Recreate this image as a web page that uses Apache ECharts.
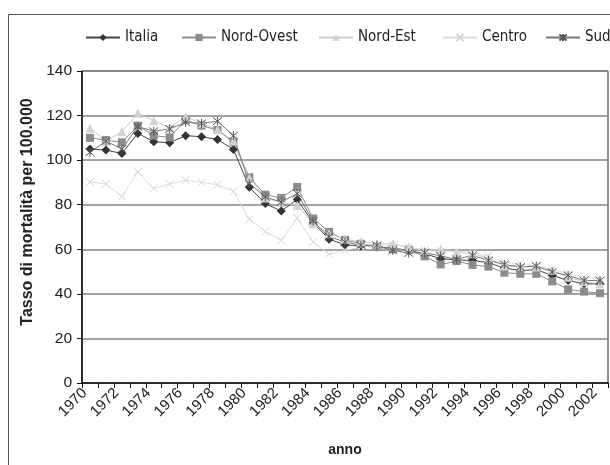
<!DOCTYPE html>
<html>
<head>
<meta charset="utf-8">
<script src="https://cdn.jsdelivr.net/npm/echarts@6/dist/echarts.min.js"></script>
<style>
  html, body { margin: 0; padding: 0; background: #fff; }
  #chart { width: 610px; height: 465px; }
</style>
</head>
<body>
<div id="chart"></div>
<script>
// anni 1970-2002
var years = [];
for (var y = 1970; y <= 2002; y++) years.push(String(y));

var italia = [105, 104.5, 103, 112, 108.3, 107.8, 111, 110.5, 109.3, 104.8,
  87.8, 80.5, 77.2, 82.3, 72, 64.5, 62, 61.5, 61, 60.5,
  59.5, 58, 55.8, 55.2, 55, 54, 51.5, 50.5, 50.8, 48.3,
  46, 44.5, 44.5];
var nordOvest = [110, 109, 108, 115.5, 111, 110.2, 118, 115.5, 113.5, 108,
  92.3, 84.5, 83, 88, 73.8, 67.8, 64.2, 62.5, 61, 60,
  59.8, 56.8, 53.2, 54.7, 53, 52.2, 49.5, 49, 49, 45.6,
  42, 41, 40.3];
var nordEst = [114.3, 108.5, 112.8, 121, 117.8, 114.5, 119.5, 116.5, 113.8, 108.7,
  92, 83, 81, 79.7, 71.5, 67, 64.5, 63.5, 62.5, 62.5,
  61, 59.5, 60, 58.8, 58, 56, 52.5, 52.5, 52, 50.5,
  47.5, 45.5, 44.5];
var centro = [90.2, 89.3, 83.7, 94.7, 87.3, 89.3, 91, 90, 89, 86,
  73.5, 68, 64, 74, 63.3, 57.8, 59.5, 61, 61.5, 62,
  61, 59.5, 59, 59, 58.5, 57, 54, 53.5, 52.5, 51,
  49, 47.5, 47];
var sud = [103.5, 108.5, 105, 115, 113, 114, 117, 116.5, 117.5, 111,
  89.5, 83.5, 81.2, 85, 72.6, 65.7, 63.3, 61.8, 61.8, 59.5,
  58.3, 58.5, 57, 55.5, 57.3, 55, 53.2, 52, 52.5, 49.8,
  48.3, 46, 46];

var yTicks = { min: 0, max: 140, step: 20 };

var font = 'Liberation Sans, Arial, sans-serif';
var narrow = '"Liberation Sans Narrow", "DejaVu Sans Condensed", "Liberation Sans", sans-serif';

var xMark = 'path://M0,0L10,10M10,0L0,10';
var starMark = 'path://M0,0L10,10M10,0L0,10M5,-1L5,11';

function serie(name, data, color, lineColor, symbol, size, stroke) {
  var item = stroke
    ? { color: 'rgba(0,0,0,0)', borderColor: color, borderWidth: 1 }
    : { color: color, borderColor: color, borderWidth: 0 };
  return {
    name: name,
    type: 'line',
    data: data,
    symbol: symbol,
    symbolSize: size,
    showAllSymbol: true,
    lineStyle: { color: lineColor, width: 1 },
    itemStyle: item,
    emphasis: { disabled: true },
    animation: false
  };
}

var names = ['Italia', 'Nord-Ovest', 'Nord-Est', 'Centro', 'Sud'];
var legendLeft = [80, 176, 313, 437, 540];

var legends = names.map(function (n, i) {
  return {
    data: [n],
    left: legendLeft[i],
    top: 25,
    itemWidth: 34,
    itemHeight: 9,
    textStyle: { fontFamily: narrow, fontSize: 15, color: '#222' }
  };
});

var chart = echarts.init(document.getElementById('chart'), null, { renderer: 'canvas' });
chart.setOption({
  backgroundColor: '#fff',
  animation: false,
  graphic: [{
    type: 'rect',
    shape: { x: 8.5, y: 14.5, width: 800, height: 800 },
    style: { fill: 'none', stroke: '#555', lineWidth: 1 },
    silent: true
  }],
  legend: legends,
  grid: {
    left: 82, top: 71, width: 526, height: 312,
    show: true, borderColor: '#222', borderWidth: 1
  },
  xAxis: {
    type: 'category',
    data: years,
    boundaryGap: true,
    name: 'anno',
    nameLocation: 'middle',
    nameGap: 60,
    nameTextStyle: { fontFamily: font, fontSize: 14, fontWeight: 'bold', color: '#222' },
    axisLine: { lineStyle: { color: '#111', width: 1.5 } },
    axisTick: { show: true, interval: 0, length: 5, inside: false, lineStyle: { color: '#111' } },
    axisLabel: { interval: 1, rotate: 45, margin: 13, verticalAlign: 'bottom', fontFamily: font, fontSize: 15, color: '#222' },
    splitLine: { show: false }
  },
  yAxis: {
    type: 'value',
    min: yTicks.min,
    max: yTicks.max,
    interval: yTicks.step,
    name: 'Tasso di mortalità per 100.000',
    nameLocation: 'middle',
    nameGap: 46,
    nameTextStyle: { fontFamily: font, fontSize: 16, fontWeight: 'bold', color: '#222', padding: [0, 0, 0, 30] },
    axisLine: { show: true, lineStyle: { color: '#111', width: 1.5 } },
    axisTick: { show: true, length: 5, lineStyle: { color: '#111' } },
    axisLabel: { margin: 10, fontFamily: font, fontSize: 15.5, color: '#222' },
    splitLine: { show: true, lineStyle: { color: '#858585', width: 1.5 } }
  },
  series: [
    serie('Italia', italia, '#333', '#444', 'diamond', 9, false),
    serie('Nord-Ovest', nordOvest, '#8c8c8c', '#8c8c8c', 'rect', 8, false),
    serie('Nord-Est', nordEst, '#d2d2d2', '#cccccc', 'triangle', 9, false),
    serie('Centro', centro, '#d4d4d4', '#dddddd', xMark, 8, true),
    serie('Sud', sud, '#555', '#777', starMark, 9, true)
  ]
});
</script>
</body>
</html>
